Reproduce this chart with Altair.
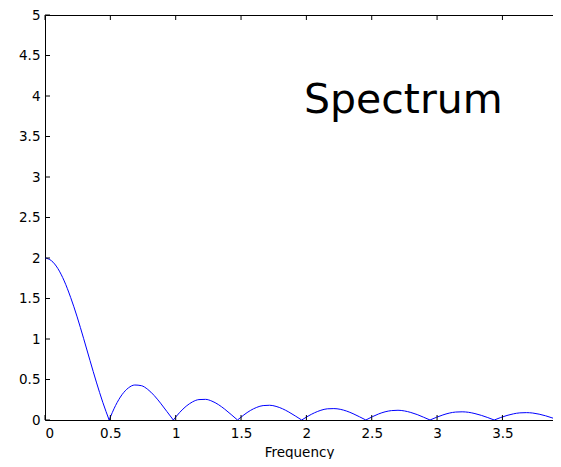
import altair as alt
import pandas as pd

# Frequency samples and spectrum magnitude
freq = [0.000, 0.049, 0.098, 0.147, 0.196, 0.246, 0.295, 0.344, 0.393, 0.442,
        0.491, 0.540, 0.589, 0.638, 0.687, 0.737, 0.786, 0.835, 0.884, 0.933,
        0.982, 1.031, 1.080, 1.129, 1.178, 1.228, 1.277, 1.326, 1.375, 1.424,
        1.473, 1.522, 1.571, 1.620, 1.669, 1.719, 1.768, 1.817, 1.866, 1.915,
        1.964, 2.013, 2.062, 2.111, 2.160, 2.210, 2.259, 2.308, 2.357, 2.406,
        2.455, 2.504, 2.553, 2.602, 2.651, 2.701, 2.750, 2.799, 2.848, 2.897,
        2.946, 2.995, 3.044, 3.093, 3.142, 3.192, 3.241, 3.290, 3.339, 3.388,
        3.437, 3.486, 3.535, 3.584, 3.633, 3.683, 3.732, 3.781, 3.830, 3.879,
        3.928]
magnitude = [2.000, 1.967, 1.871, 1.717, 1.514, 1.273, 1.009, 0.736, 0.468, 0.219,
             0.000, 0.179, 0.312, 0.396, 0.432, 0.424, 0.378, 0.303, 0.208, 0.104,
             0.000, 0.094, 0.170, 0.224, 0.252, 0.255, 0.233, 0.191, 0.134, 0.068,
             0.000, 0.063, 0.117, 0.156, 0.178, 0.182, 0.168, 0.139, 0.098, 0.050,
             0.000, 0.048, 0.089, 0.120, 0.138, 0.141, 0.132, 0.110, 0.078, 0.040,
             0.000, 0.040, 0.075, 0.101, 0.116, 0.120, 0.112, 0.093, 0.067, 0.034,
             0.000, 0.033, 0.062, 0.085, 0.098, 0.101, 0.095, 0.079, 0.057, 0.030,
             0.000, 0.030, 0.056, 0.076, 0.088, 0.091, 0.086, 0.072, 0.052, 0.027,
             0.000]
x_ticks = [0, 0.5, 1, 1.5, 2, 2.5, 3, 3.5]
y_ticks = [0, 0.5, 1, 1.5, 2, 2.5, 3, 3.5, 4, 4.5, 5]
x_title = "Frequency"
annotation = "Spectrum"

W, H = 508, 405
FONT = "DejaVu Sans"

rows = []
for k in range(8):
    for i in range(10 * k, 10 * k + 11):
        rows.append({"freq": freq[i], "mag": magnitude[i], "arch": k})
df = pd.DataFrame(rows)

xs = alt.Scale(domain=[0, 3.887], nice=False, zero=False)
ys = alt.Scale(domain=[0, 5], nice=False, zero=False)

line = alt.Chart(df).mark_line(
    color="#0000ff", strokeWidth=1, interpolate="monotone", clip=True
).encode(
    x=alt.X("freq:Q", scale=xs,
            axis=alt.Axis(orient="bottom", values=x_ticks, format="~g", tickSize=0,
                          labelPadding=6, title=x_title, titlePadding=6,
                          domainColor="black", domainWidth=1, grid=False)),
    y=alt.Y("mag:Q", scale=ys,
            axis=alt.Axis(orient="left", values=y_ticks, format="~g", tickSize=0,
                          labelPadding=5, title=None, domainColor="black",
                          domainWidth=1, grid=False)),
    detail="arch:N",
)

xt = pd.DataFrame({"v": x_ticks})
yt = pd.DataFrame({"v": y_ticks})

top_ticks = alt.Chart(xt).mark_rule(color="black", strokeWidth=1).encode(
    x=alt.X("v:Q", scale=xs,
            axis=alt.Axis(orient="top", values=x_ticks, labels=False, ticks=False,
                          title=None, domainColor="black", domainWidth=1, grid=False)),
    y=alt.value(0), y2=alt.value(5),
)
bottom_ticks = alt.Chart(xt).mark_rule(color="black", strokeWidth=1).encode(
    x=alt.X("v:Q", scale=xs, axis=None),
    y=alt.value(H), y2=alt.value(H - 5),
)
left_ticks = alt.Chart(yt).mark_rule(color="black", strokeWidth=1).encode(
    y=alt.Y("v:Q", scale=ys, axis=None),
    x=alt.value(0), x2=alt.value(5),
)

label = alt.Chart(pd.DataFrame({"t": [annotation]})).mark_text(
    align="left", baseline="alphabetic", fontSize=41, font=FONT, color="black"
).encode(x=alt.value(259), y=alt.value(98), text="t:N")

chart = alt.layer(line, top_ticks, bottom_ticks, left_ticks, label).resolve_axis(
    x="independent", y="independent"
).properties(
    width=W, height=H,
    autosize=alt.AutoSizeParams(type="none"),
    padding={"left": 37, "top": 7, "right": 0, "bottom": 39},
).configure_view(stroke=None).configure_axis(
    labelFont=FONT, labelFontSize=13.5, labelColor="black",
    titleFont=FONT, titleFontSize=13.5, titleFontWeight="normal", titleColor="black",
)

chart.save("out.html", embed_options={"renderer": "svg", "actions": False})
